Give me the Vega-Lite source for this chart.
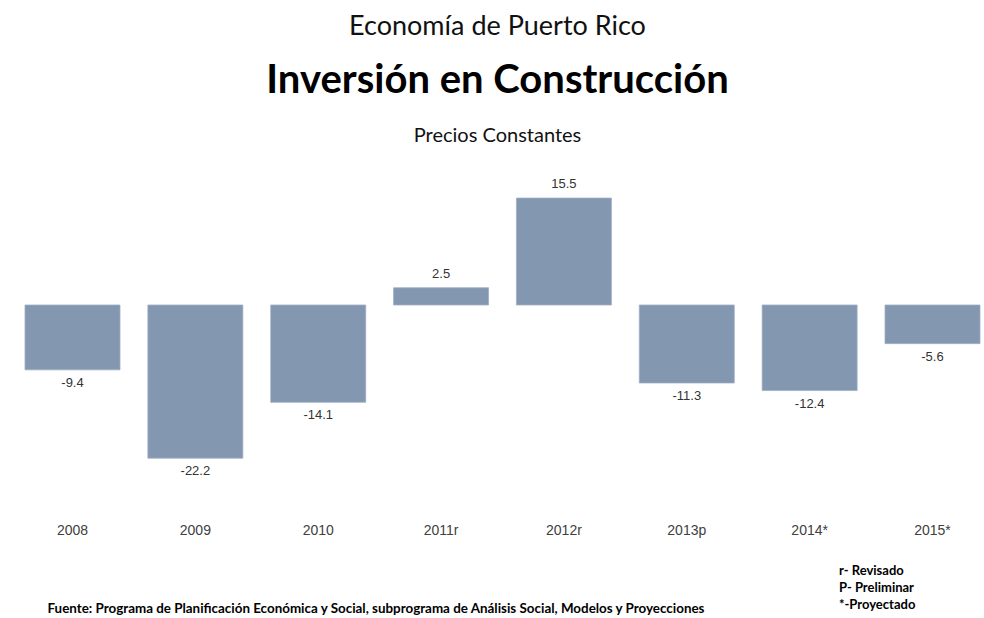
{
  "$schema": "https://vega.github.io/schema/vega-lite/v6.json",
  "width": 973,
  "height": 345,
  "autosize": {"type": "none"},
  "padding": {"left": 11, "right": 0, "top": 167, "bottom": 106},
  "background": "white",
  "title": {
    "text": "Economía de Puerto Rico",
    "subtitle": "Inversión en Construcción",
    "anchor": "middle",
    "font": "Lato",
    "fontSize": 27,
    "fontWeight": "normal",
    "color": "#111",
    "subtitleFont": "Lato",
    "subtitleFontSize": 40,
    "subtitleFontWeight": "bold",
    "subtitleColor": "#000",
    "subtitlePadding": 20,
    "offset": 23
  },
  "config": {"view": {"stroke": null}},
  "layer": [
    {
      "data": {"values": [
        {"anio": "2008", "valor": -9.4},
        {"anio": "2009", "valor": -22.2},
        {"anio": "2010", "valor": -14.1},
        {"anio": "2011r", "valor": 2.5},
        {"anio": "2012r", "valor": 15.5},
        {"anio": "2013p", "valor": -11.3},
        {"anio": "2014*", "valor": -12.4},
        {"anio": "2015*", "valor": -5.6}
      ]},
      "encoding": {
        "x": {
          "field": "anio", "type": "nominal", "sort": null,
          "scale": {"range": [0, 983], "paddingInner": 0.2268, "paddingOuter": 0.114},
          "axis": {
            "labelAngle": 0, "ticks": false, "domain": false, "grid": false,
            "labelFont": "Liberation Sans", "labelFontSize": 14, "labelColor": "#404040",
            "labelPadding": 11,
            "title": "Fuente: Programa de Planificación Económica  y Social, subprograma de Análisis Social, Modelos y Proyecciones",
            "titleFont": "Lato", "titleFontSize": 13.4, "titleFontWeight": "bold", "titleColor": "#000",
            "titleAnchor": "start", "titleAlign": "left", "titleBaseline": "alphabetic",
            "titleX": 36, "titleY": 100
          }
        },
        "y": {
          "field": "valor", "type": "quantitative",
          "scale": {"domain": [-30, 20], "nice": false, "zero": true},
          "axis": {
            "labels": false, "ticks": false, "domain": false, "grid": false,
            "title": "Precios Constantes",
            "titleAngle": 0, "titleFont": "Lato", "titleFontSize": 20, "titleFontWeight": "normal",
            "titleColor": "#111", "titleAlign": "center", "titleBaseline": "middle",
            "titleX": 486, "titleY": -32
          }
        }
      },
      "layer": [
        {"mark": {"type": "bar", "color": "#8497b0", "clip": true, "stroke": "#9eaec4", "strokeWidth": 0.8}},
        {
          "transform": [{"filter": "datum.valor >= 0"}],
          "mark": {"type": "text", "baseline": "bottom", "dy": -7, "font": "Liberation Sans", "fontSize": 13, "color": "#333"},
          "encoding": {"text": {"field": "valor", "type": "nominal"}}
        },
        {
          "transform": [{"filter": "datum.valor < 0"}],
          "mark": {"type": "text", "baseline": "top", "dy": 7, "font": "Liberation Sans", "fontSize": 13, "color": "#333"},
          "encoding": {"text": {"field": "valor", "type": "nominal"}}
        }
      ]
    },
    {
      "mark": {"type": "rule", "color": "#333", "strokeWidth": 2},
      "encoding": {"y": {"datum": 0, "type": "quantitative"}}
    },
    {
      "data": {"values": [
        {"nota": "r- Revisado"},
        {"nota": "P- Preliminar"},
        {"nota": "*-Proyectado"}
      ]},
      "mark": {"type": "text", "text": ""},
      "encoding": {
        "color": {
          "field": "nota", "type": "nominal", "sort": null,
          "scale": {"range": ["#000", "#000", "#000"]},
          "legend": {
            "orient": "none", "legendX": 815, "legendY": 397,
            "title": null, "symbolSize": 0, "symbolOpacity": 0, "symbolStrokeWidth": 0,
            "labelOffset": 0, "labelFont": "Lato", "labelFontSize": 13, "labelFontWeight": "bold",
            "labelColor": "#000", "rowPadding": 3
          }
        }
      }
    }
  ]
}
